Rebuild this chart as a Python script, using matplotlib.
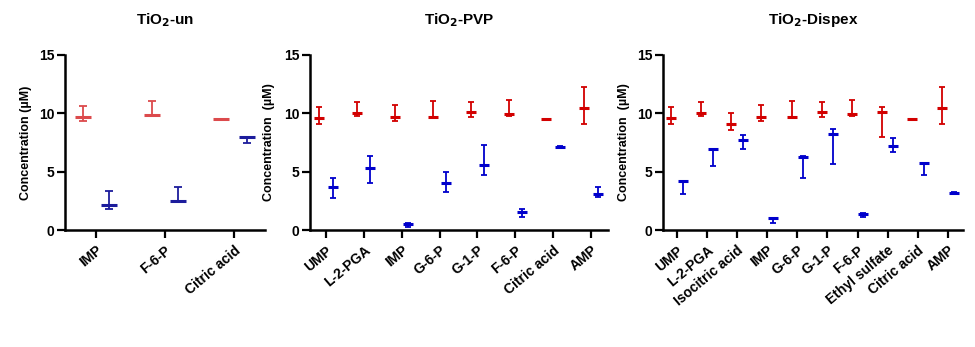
import matplotlib
matplotlib.use("Agg")
import matplotlib.pyplot as plt

plt.rcParams["font.family"] = ["Liberation Sans", "DejaVu Sans"]
plt.rcParams["font.weight"] = "bold"

# TiO2-un
un_labels = ["IMP", "F-6-P", "Citric acid"]
un_red_mean = [9.65, 9.88, 9.48]
un_red_lo = [9.37, 9.79, 9.43]
un_red_hi = [10.67, 11.10, 9.52]
un_blue_mean = [2.11, 2.48, 8.00]
un_blue_lo = [1.82, 2.48, 7.46]
un_blue_hi = [3.33, 3.70, 8.00]

# TiO2-PVP
pvp_labels = ["UMP", "L-2-PGA", "IMP", "G-6-P", "G-1-P", "F-6-P", "Citric acid", "AMP"]
pvp_red_mean = [9.61, 10.04, 9.69, 9.69, 10.15, 9.92, 9.49, 10.44]
pvp_red_lo = [9.12, 9.78, 9.38, 9.69, 9.69, 9.81, 9.44, 9.12]
pvp_red_hi = [10.58, 11.01, 10.75, 11.10, 11.01, 11.18, 9.54, 12.27]
pvp_blue_mean = [3.67, 5.31, 0.49, 4.01, 5.56, 1.55, 7.11, 3.13]
pvp_blue_lo = [2.75, 4.04, 0.29, 3.24, 4.70, 1.12, 7.06, 2.81]
pvp_blue_hi = [4.50, 6.37, 0.57, 4.99, 7.31, 1.78, 7.16, 3.67]

# TiO2-Dispex
dis_labels = ["UMP", "L-2-PGA", "Isocitric acid", "IMP", "G-6-P", "G-1-P", "F-6-P",
              "Ethyl sulfate", "Citric acid", "AMP"]
dis_red_mean = [9.61, 10.04, 9.12, 9.69, 9.69, 10.15, 9.92, 10.12, 9.49, 10.44]
dis_red_lo = [9.12, 9.81, 8.55, 9.38, 9.69, 9.69, 9.81, 8.00, 9.44, 9.12]
dis_red_hi = [10.58, 11.01, 10.07, 10.73, 11.07, 11.01, 11.18, 10.58, 9.54, 12.27]
dis_blue_mean = [4.19, 6.94, 7.71, 1.06, 6.25, 8.20, 1.35, 7.20, 5.71, 3.21]
dis_blue_lo = [3.10, 5.45, 6.91, 0.60, 4.47, 5.68, 1.15, 6.71, 4.73, 3.18]
dis_blue_hi = [4.19, 6.94, 8.14, 1.06, 6.34, 8.66, 1.46, 7.89, 5.71, 3.24]

panels = [
    ("TiO$_2$-un", un_labels, (un_red_mean, un_red_lo, un_red_hi),
     (un_blue_mean, un_blue_lo, un_blue_hi), "Concentration (\u00b5M)"),
    ("TiO$_2$-PVP", pvp_labels, (pvp_red_mean, pvp_red_lo, pvp_red_hi),
     (pvp_blue_mean, pvp_blue_lo, pvp_blue_hi), "Concentration  (\u00b5M)"),
    ("TiO$_2$-Dispex", dis_labels, (dis_red_mean, dis_red_lo, dis_red_hi),
     (dis_blue_mean, dis_blue_lo, dis_blue_hi), "Concentration  (\u00b5M)"),
]

# layout per panel: axes rect, xlim, offset, mean width, capsize, colors, ylabel x
styles = [
    dict(rect=[0.0667, 0.337, 0.205, 0.5045], xlim=(-0.45, 2.45), off=0.19,
         ms=11.5, cap=2.6, red="#dc4a4c", blue="#1c1c9c", labx=-0.165),
    dict(rect=[0.318, 0.337, 0.3056, 0.5045], xlim=(-0.42, 7.45), off=0.175,
         ms=7.5, cap=2.2, red="#d20000", blue="#0000cc", labx=-0.117),
    dict(rect=[0.680, 0.337, 0.3077, 0.5045], xlim=(-0.46, 9.5), off=0.19,
         ms=6.5, cap=2.2, red="#d20000", blue="#0000cc", labx=-0.11),
]

fig = plt.figure(figsize=(9.75, 3.47), dpi=100)

for (title, labels, red, blue, ylabel), st in zip(panels, styles):
    ax = fig.add_axes(st["rect"])
    x = list(range(len(labels)))
    for (mean, lo, hi), color, sign in [(red, st["red"], -1), (blue, st["blue"], 1)]:
        xs = [i + sign * st["off"] for i in x]
        err = [[m - l for m, l in zip(mean, lo)], [h - m for m, h in zip(mean, hi)]]
        ax.errorbar(xs, mean, yerr=err, fmt="none", ecolor=color, elinewidth=1.3,
                    capsize=st["cap"], capthick=1.3)
        ax.plot(xs, mean, linestyle="none", marker="_", markersize=st["ms"],
                markeredgewidth=2.2, color=color)
    ax.set_xlim(*st["xlim"])
    ax.set_ylim(0, 15)
    ax.set_yticks([0, 5, 10, 15])
    ax.set_xticks(x)
    ax.set_xticklabels(labels, rotation=40, ha="right", rotation_mode="anchor",
                       fontsize=10, fontweight="bold")
    for lab in ax.get_yticklabels():
        lab.set_fontsize(10)
        lab.set_fontweight("bold")
    ax.tick_params(axis="both", length=5.5, width=1.6, direction="out", pad=2)
    ax.tick_params(axis="x", pad=4)
    for side in ["top", "right"]:
        ax.spines[side].set_visible(False)
    for side in ["left", "bottom"]:
        ax.spines[side].set_linewidth(1.8)
    ax.set_ylabel(ylabel, fontsize=9, fontweight="bold")
    ax.yaxis.set_label_coords(st["labx"], 0.5)
    ax.set_title(title, fontsize=11, fontweight="bold", pad=22)

fig.savefig("out.png", dpi=100)
